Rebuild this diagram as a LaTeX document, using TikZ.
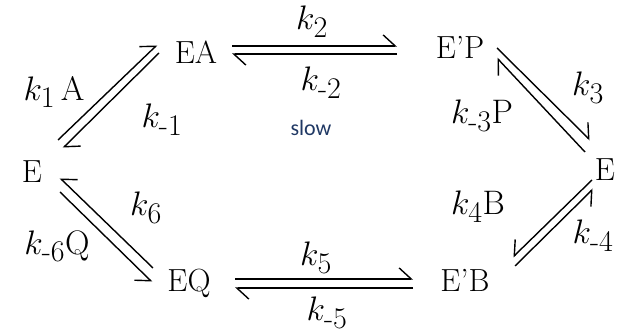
\RequirePackage{fix-cm}
\documentclass[tikz,border=0pt]{standalone}
\usepackage{amsmath}
\usepackage{fontspec}
\newfontfamily\slowfont{Carlito}
\usepackage{tikz}
\usetikzlibrary{calc,arrows.meta}
\DeclareMathSizes{34}{34}{30}{24}
\definecolor{slowblue}{RGB}{31,56,100}
\tikzset{
  species/.style={inner sep=0pt,text depth=0pt,font=\fontsize{32}{36}\selectfont},
  rate/.style={inner sep=0pt,font=\fontsize{34}{36}\selectfont},
  harpL/.style={line width=1.4pt,-{Straight Barb[harpoon,length=12pt,width=22pt]}},
  harpR/.style={line width=1.4pt,-{Straight Barb[harpoon,swap,length=12pt,width=22pt]}}
}

\begin{document}
\begin{tikzpicture}[x=1pt,y=-1pt]
  \useasboundingbox (0,0) rectangle (624,336);
  \node[species] (E1) at (32,172) {E};
  \node[species] (EA) at (196,52) {EA};
  \node[species] (EP) at (460,47) {E'P};
  \node[species] (E2) at (605,170) {E};
  \node[species] (EQ) at (189,280) {EQ};
  \node[species] (EB) at (465,280) {E'B};
  % rate constants
  \node[rate] (k1) at (54,92) {$k_1\,\mathrm{A}$};
  \node[rate] (km1) at (162,120) {$k_{\text{-}1}$};
  \node[rate] (k2) at (312,22) {$k_2$};
  \node[rate] (km2) at (321,83) {$k_{\text{-}2}$};
  \node[font=\slowfont\fontsize{22}{24}\selectfont,text=slowblue,inner sep=0pt] (slow) at (311,128) {slow};
  \node[rate] (k3) at (588,88) {$k_3$};
  \node[rate] (km3) at (482,116) {$k_{\text{-}3}\mathrm{P}$};
  \node[rate] (k4) at (478,207) {$k_4\mathrm{B}$};
  \node[rate] (km4) at (593,236) {$k_{\text{-}4}$};
  \node[rate] (k5) at (316,258) {$k_5$};
  \node[rate] (km5) at (327,313) {$k_{\text{-}5}$};
  \node[rate] (k6) at (146,208) {$k_6$};
  \node[rate] (km6) at (57,246) {$k_{\text{-}6}\mathrm{Q}$};
  % equilibrium harpoons
  \draw[harpL] ($(EA)+(36,-6)$) -- ($(EP)+(-63,-1)$);
  \draw[harpL] ($(EP)+(-63,7)$) -- ($(EA)+(36,2)$);
  \draw[harpL] ($(EQ)+(46,-1)$) -- ($(EB)+(-52,-1)$);
  \draw[harpL] ($(EB)+(-52,8)$) -- ($(EQ)+(46,8)$);
  \draw[harpL] ($(E1)+(26,-32)$) -- ($(EA)+(-39,-7)$);
  \draw[harpL] ($(EA)+(-37,1)$) -- ($(E1)+(31,-24)$);
  \draw[harpL] ($(EP)+(37,1)$) -- ($(E2)+(-15,-30)$);
  \draw[harpL] ($(E2)+(-20,-18)$) -- ($(EP)+(37,11)$);
  \draw[harpR] ($(EQ)+(-36,-12)$) -- ($(E1)+(28,6)$);
  \draw[harpR] ($(E1)+(28,20)$) -- ($(EQ)+(-37,2)$);
  \draw[harpR] ($(E2)+(-13,10)$) -- ($(EB)+(48,-23)$);
  \draw[harpR] ($(EB)+(50,-14)$) -- ($(E2)+(-12,19)$);
\end{tikzpicture}
\end{document}
